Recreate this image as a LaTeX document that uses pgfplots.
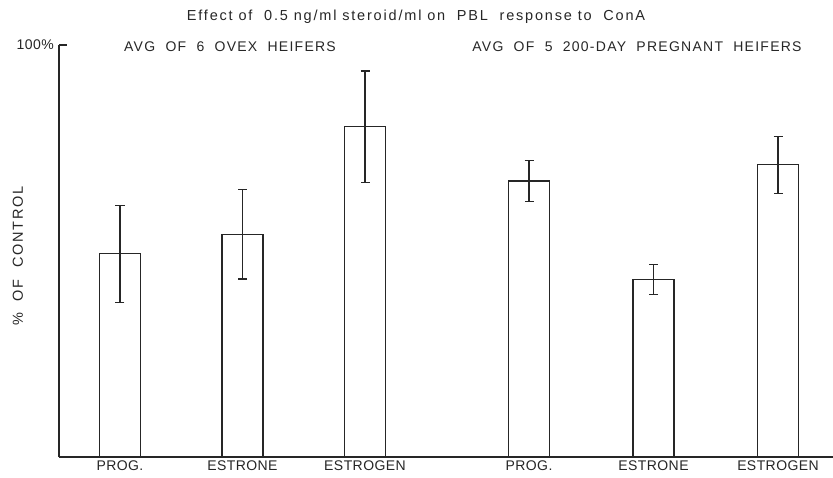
\documentclass[border=0pt]{standalone}
\usepackage{fontspec}
\setmainfont{Liberation Sans}
\newfontfamily\capsfont[LetterSpace=9]{Liberation Sans}
\newfontfamily\ylabfont[LetterSpace=12]{Liberation Sans}
\newfontfamily\titlefont[LetterSpace=12.5]{Liberation Sans}
\newfontfamily\tickfont[LetterSpace=3]{Liberation Sans}
\usepackage{pgfplots}
\pgfplotsset{compat=1.18}
\begin{document}
\begin{tikzpicture}
\useasboundingbox (-59pt,-20pt) rectangle (774pt,457pt);
\begin{axis}[
  at={(0pt,0pt)}, anchor=south west,
  scale only axis, width=774pt, height=412pt,
  xmin=59, xmax=833, ymin=0, ymax=100,
  axis lines=left,
  axis line style={-, line width=1.6pt, black!85},
  xtick={120,242.5,365,529,653.5,778},
  xticklabels={PROG.,ESTRONE,ESTROGEN,PROG.,ESTRONE,ESTROGEN},
  x tick style={draw=none},
  xticklabel style={font=\tickfont\fontsize{14}{14}\selectfont, inner sep=1pt, yshift=-3pt, text=black!85},
  ytick={100}, yticklabels={100\%},
  y tick style={line width=1.3pt, black!85},
  major tick length=8pt, tick align=inside,
  yticklabel style={font=\tickfont\fontsize{14}{14}\selectfont, inner sep=1pt, xshift=-4pt, text=black!85},
  clip=false,
]
\addplot[ybar, bar width=41, draw=black!85, fill=white, line width=1.1pt,
  error bars/.cd, y dir=both, y explicit,
  error bar style={line width=1.1pt, black!85},
  error mark options={rotate=90, mark size=4.5pt, line width=1.1pt, black!85}]
  coordinates {
   (120,49.3) +- (0,11.8)
   (242.5,54.1) +- (0,10.9)
   (365,80.2) +- (0,13.5)
   (529,67.0) +- (0,5.0)
   (653.5,43.1) +- (0,3.6)
   (778,70.9) +- (0,6.9)
  };
\end{axis}
\node[font=\titlefont\fontsize{14.5}{14.5}\selectfont, text=black!85] at (357pt,440pt) {Effect of \ 0.5 ng/ml steroid/ml on \ PBL \ response to \ ConA};
\node[font=\capsfont\fontsize{14}{14}\selectfont, text=black!85] at (171pt,410pt) {AVG \ OF \ 6 \ OVEX \ HEIFERS};
\node[font=\capsfont\fontsize{14}{14}\selectfont, text=black!85] at (578pt,410pt) {AVG \ OF \ 5 \ 200-DAY \ PREGNANT \ HEIFERS};
\node[font=\ylabfont\fontsize{14.5}{14.5}\selectfont, rotate=90, text=black!85] at (-41pt,201pt) {\% \ OF \ CONTROL};
\end{tikzpicture}
\end{document}
